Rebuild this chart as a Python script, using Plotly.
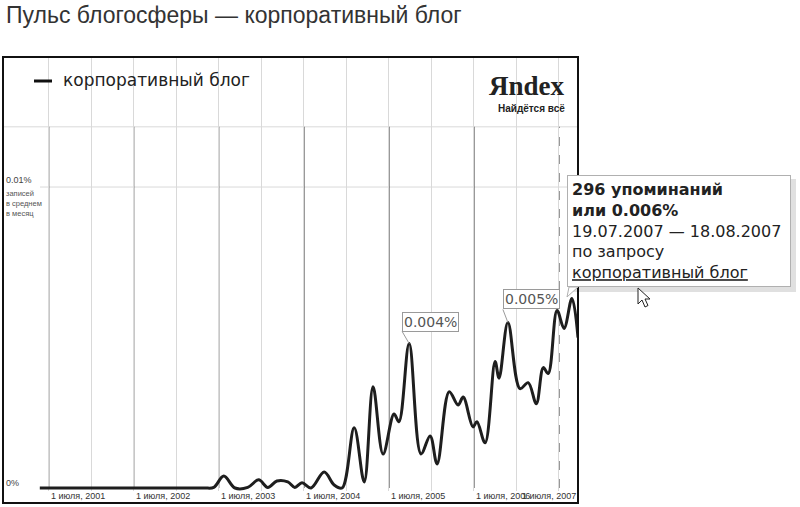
import plotly.graph_objects as go

# ---------------------------------------------------------------------------
# data read off the Yandex "blog pulse" picture (share of posts per month, %)
# ---------------------------------------------------------------------------
dates = [
    "2001-05-24", "2002-05-02", "2003-02-28", "2003-05-02", "2003-06-10",
    "2003-07-23", "2003-09-09", "2003-11-03", "2003-12-20", "2004-01-28",
    "2004-03-07", "2004-04-23", "2004-05-23", "2004-06-23", "2004-08-01",
    "2004-09-26", "2004-11-08", "2004-12-12", "2005-02-02", "2005-03-17",
    "2005-04-24", "2005-06-06", "2005-07-23", "2005-08-13", "2005-09-26",
    "2005-11-16", "2005-12-25", "2006-01-24", "2006-03-17", "2006-04-24",
    "2006-05-16", "2006-06-27", "2006-07-14", "2006-08-18", "2006-09-30",
    "2006-10-17", "2006-11-24", "2007-01-15", "2007-02-19", "2007-03-26",
    "2007-04-25", "2007-05-16", "2007-06-23", "2007-07-23", "2007-08-26",
    "2007-09-21",
]
share = [
    0, 0, 0, 0, 0.00002,
    0.0004, 0, 0.00002, 0.00027, 0.00002,
    0.00023, 0.0002, 0.00002, 0.00017, 0,
    0.00053, 0.0001, 0, 0.002, 0.0002,
    0.00336, 0.00113, 0.00246, 0.0022, 0.0048,
    0.00113, 0.00173, 0.0008, 0.0032, 0.00276,
    0.00302, 0.00203, 0.0022, 0.0015, 0.0042,
    0.00365, 0.0055, 0.0033, 0.0035, 0.0028,
    0.0040, 0.0038, 0.0059, 0.0053, 0.0063,
    0.0050,
]

years = [2001, 2002, 2003, 2004, 2005, 2006, 2007]
tick_labels = ["1 июля, %d" % y for y in years]

peak_notes = [("2005-09-26", 0.0048, "0.004%", -7, -12),
              ("2006-11-24", 0.0055, "0.005%", -5, -13)]

tooltip_lines = ["<b>296 упоминаний</b>", "<b>или 0.006%</b>",
                 "19.07.2007 — 18.08.2007", "по запросу",
                 "<span style='text-decoration:underline'>корпоративный блог</span>"]

# ---------------------------------------------------------------------------
# page geometry (pixels of the 800x507 picture)
# ---------------------------------------------------------------------------
W, H = 800, 507
L, R, T, B = 3, 578, 57, 491


def px(x):
    return (x - L) / (R - L)


def py(y):
    return (B - y) / (B - T)


def poly(points):
    return "M " + " L ".join("%f,%f" % (px(a), py(b)) for a, b in points) + " Z"


light = "#d9d9d9"
dark = "#444444"

fig = go.Figure()
fig.add_trace(go.Scatter(
    x=dates, y=share, mode="lines",
    line=dict(color="#1e1e1e", width=3, shape="spline", smoothing=1.0),
    hoverinfo="skip", showlegend=False,
))

grid_vals = []
for y in years:
    if y > 2001:
        grid_vals.append("%d-01-01" % y)
    grid_vals.append("%d-07-01" % y)

shapes = []
# horizontal guide lines
shapes.append(dict(type="line", xref="paper", yref="y", x0=0, x1=1,
                   y0=0.012, y1=0.012, line=dict(color=light, width=1),
                   layer="below"))
shapes.append(dict(type="line", xref="paper", yref="y", x0=px(40), x1=1,
                   y0=0.01, y1=0.01, line=dict(color=light, width=1),
                   layer="below"))
# dark July lines
for y in years:
    shapes.append(dict(type="line", xref="x", yref="y",
                       x0="%d-07-01" % y, x1="%d-07-01" % y, y0=0, y1=0.012,
                       line=dict(color=dark, width=1.3,
                                 dash="dash" if y == 2007 else "solid"),
                       layer="below"))
# legend dash
shapes.append(dict(type="line", xref="paper", yref="paper",
                   x0=px(34), x1=px(52), y0=py(81), y1=py(81),
                   line=dict(color="#111", width=3)))
# outer frame
shapes.append(dict(type="rect", xref="paper", yref="paper",
                   x0=0, x1=1, y0=py(503), y1=1,
                   line=dict(color="#111", width=2)))
# tooltip shadow and tail
shapes.append(dict(type="rect", xref="paper", yref="paper",
                   x0=px(571), x1=px(796), y0=py(292), y1=py(179),
                   fillcolor="rgba(0,0,0,0.12)", line=dict(width=0)))
shapes.append(dict(type="path", xref="paper", yref="paper",
                   path=poly([(569, 287), (567, 297), (578, 287)]),
                   fillcolor="white", line=dict(color="#b0b0b0", width=1)))
# mouse cursor
cur = [(638, 288), (638, 304), (642, 300), (645, 307), (648, 305.5),
       (645, 299), (650, 299)]
shapes.append(dict(type="path", xref="paper", yref="paper", path=poly(cur),
                   fillcolor="white", line=dict(color="#222", width=1)))

ann = []
ann.append(dict(text="Пульс блогосферы — корпоративный блог",
                xref="paper", yref="paper", x=px(4), y=py(15),
                xanchor="left", yanchor="middle", showarrow=False,
                font=dict(family="Liberation Sans", size=23, color="#333")))
ann.append(dict(text="корпоративный блог", xref="paper", yref="paper",
                x=px(61), y=py(80), xanchor="left", yanchor="middle",
                showarrow=False,
                font=dict(family="DejaVu Sans", size=17, color="#222")))
ann.append(dict(text="<b>Яndex</b>", xref="paper", yref="paper",
                x=px(567), y=py(86), xanchor="right", yanchor="middle",
                showarrow=False,
                font=dict(family="Liberation Serif", size=27, color="#222")))
ann.append(dict(text="<b>Найдётся всё</b>", xref="paper", yref="paper",
                x=px(567), y=py(108), xanchor="right", yanchor="middle",
                showarrow=False,
                font=dict(family="Liberation Sans", size=10, color="#222")))
# y labels
ann.append(dict(text="0.01%", xref="paper", yref="y", x=px(4), y=0.01,
                xanchor="left", yanchor="bottom", showarrow=False,
                font=dict(family="Liberation Sans", size=9, color="#444")))
ann.append(dict(text="записей<br>в среднем<br>в месяц", xref="paper",
                yref="y", x=px(4), y=0.01, xanchor="left", yanchor="top",
                showarrow=False, align="left",
                font=dict(family="Liberation Sans", size=7.5, color="#555")))
ann.append(dict(text="0%", xref="paper", yref="paper", x=px(4), y=py(483),
                xanchor="left", yanchor="middle", showarrow=False,
                font=dict(family="Liberation Sans", size=9, color="#444")))
# x tick labels
for y, lab in zip(years, tick_labels):
    last = y == years[-1]
    ann.append(dict(text=lab, xref="paper" if last else "x", yref="paper",
                    x=1 if last else "%d-07-01" % y, y=py(496),
                    xanchor="right" if last else "left", yanchor="middle",
                    showarrow=False,
                    font=dict(family="Liberation Sans", size=9, color="#333")))
# peak call-outs
for d, v, lab, ax, ay in peak_notes:
    ann.append(dict(text=lab, x=d, y=v, xref="x", yref="y",
                    showarrow=True, arrowhead=0, arrowwidth=1,
                    arrowcolor="#9a9a9a", ax=ax, ay=ay,
                    xanchor="left", yanchor="bottom",
                    bgcolor="white", bordercolor="#9a9a9a", borderwidth=1,
                    borderpad=1,
                    font=dict(family="DejaVu Sans", size=14, color="#555")))
# hover tooltip
ann.append(dict(text="<br>".join(tooltip_lines), xref="paper", yref="paper",
                x=px(567), y=py(175), xanchor="left", yanchor="top",
                showarrow=False, align="left", bgcolor="white",
                bordercolor="#b0b0b0", borderwidth=1, borderpad=4,
                width=214,
                font=dict(family="DejaVu Sans", size=16, color="#222")))

fig.update_layout(
    width=W, height=H,
    margin=dict(l=L, r=W - R, t=T, b=H - B, pad=0),
    paper_bgcolor="white", plot_bgcolor="white",
    xaxis=dict(type="date", range=["2000-12-17", "2007-09-21"],
               tickvals=grid_vals, showticklabels=False, ticks="",
               showgrid=True, gridcolor=light, gridwidth=1,
               zeroline=False, showline=False, fixedrange=True),
    yaxis=dict(range=[-0.0001, 0.01432], showgrid=False, zeroline=False,
               showticklabels=False, ticks="", showline=False,
               fixedrange=True),
    shapes=shapes, annotations=ann, showlegend=False,
)

# page body has an 8px default margin; drop it so the figure sits at 0,0
fig.write_html("out.html", config={"displayModeBar": False},
               post_script="document.body.style.margin='0';")
